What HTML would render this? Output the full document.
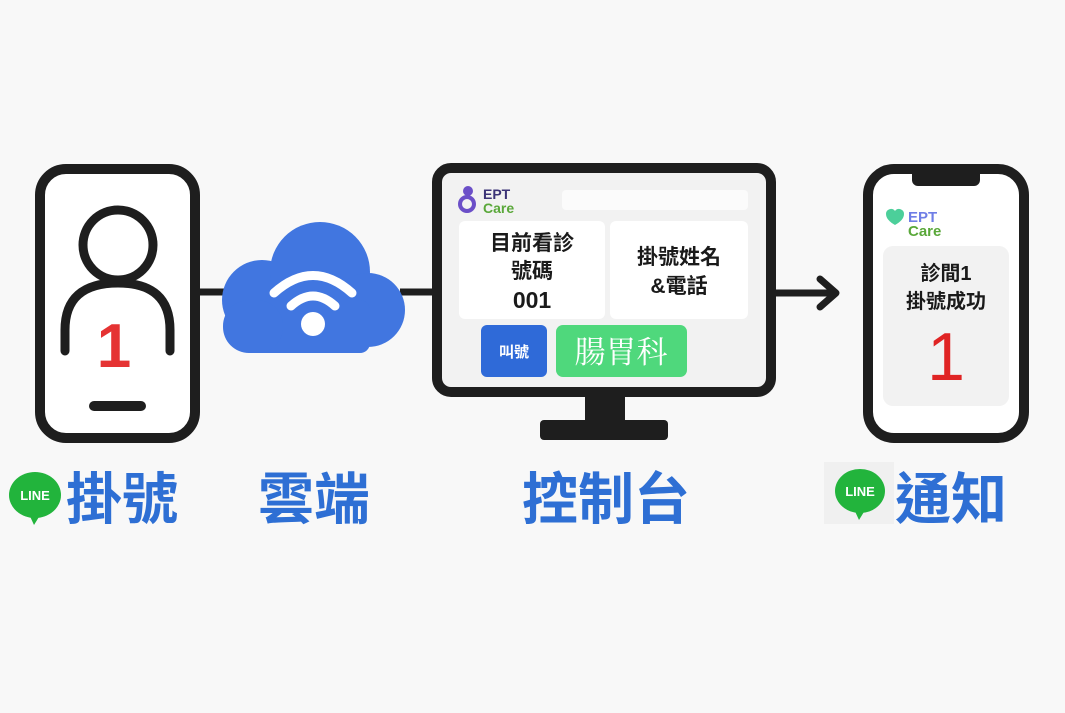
<!DOCTYPE html>
<html><head><meta charset="utf-8"><style>
html,body{margin:0;padding:0;background:#f8f8f8;}
svg{display:block}
.cjk{font-family:"Liberation Sans","Noto Sans CJK TC",sans-serif;}
</style></head><body>
<svg width="1065" height="713" viewBox="0 0 1065 713" xmlns="http://www.w3.org/2000/svg" class="cjk">
<rect width="1065" height="713" fill="#f8f8f8"/>
<!-- connectors -->
<line x1="198" y1="292" x2="240" y2="292" stroke="#1e1e1e" stroke-width="7"/>
<line x1="400" y1="292" x2="436" y2="292" stroke="#1e1e1e" stroke-width="7"/>
<line x1="772" y1="293" x2="834" y2="293" stroke="#1e1e1e" stroke-width="7"/>
<polyline points="820,279 836,293 820,307" fill="none" stroke="#1e1e1e" stroke-width="7" stroke-linecap="round" stroke-linejoin="round"/>

<!-- left phone -->
<rect x="40" y="169" width="155" height="269" rx="26" fill="#fff" stroke="#1e1e1e" stroke-width="10"/>
<circle cx="118" cy="245" r="35" fill="none" stroke="#1e1e1e" stroke-width="9"/>
<path d="M65,351 V330 Q65,283 118,283 Q170,283 170,330 V351" fill="none" stroke="#1e1e1e" stroke-width="9" stroke-linecap="round"/>
<text x="114" y="367" text-anchor="middle" font-size="62" font-weight="bold" fill="#e53333" font-family="Liberation Sans,sans-serif">1</text>
<line x1="94" y1="406" x2="141" y2="406" stroke="#1e1e1e" stroke-width="10" stroke-linecap="round"/>

<!-- cloud -->
<g fill="#4176e0">
<circle cx="262" cy="300" r="40"/>
<circle cx="320" cy="272" r="50"/>
<circle cx="368" cy="310" r="37"/>
<rect x="245" y="300" width="125" height="53" rx="10"/>
<rect x="223" y="300" width="60" height="53" rx="26"/>
</g>
<circle cx="313" cy="324" r="12" fill="#fff"/>
<path d="M291,306 Q313,286 335,306" fill="none" stroke="#fff" stroke-width="9" stroke-linecap="round"/>
<path d="M274,293 Q313,258 352,293" fill="none" stroke="#fff" stroke-width="9" stroke-linecap="round"/>

<!-- monitor -->
<rect x="585" y="395" width="40" height="30" fill="#1e1e1e"/>
<rect x="540" y="420" width="128" height="20" rx="4" fill="#1e1e1e"/>
<rect x="437" y="168" width="334" height="224" rx="14" fill="#f2f2f2" stroke="#1e1e1e" stroke-width="10"/>
<circle cx="467" cy="204" r="7" fill="none" stroke="#6b4fc8" stroke-width="4"/>
<circle cx="468" cy="191" r="5" fill="#6b4fc8"/>
<text x="483" y="199" font-size="14" font-weight="bold" fill="#3b3377" font-family="Liberation Sans,sans-serif">EPT</text>
<text x="483" y="213" font-size="14" font-weight="bold" fill="#5aa83a" font-family="Liberation Sans,sans-serif">Care</text>
<rect x="562" y="190" width="186" height="20" rx="4" fill="#fbfbfb"/>
<rect x="459" y="221" width="146" height="98" rx="6" fill="#fff"/>
<rect x="610" y="221" width="138" height="98" rx="6" fill="#fff"/>
<g font-weight="bold" fill="#1a1a1a">
<text x="532" y="250" text-anchor="middle" font-size="21">目前看診</text>
<text x="532" y="278" text-anchor="middle" font-size="21">號碼</text>
<text x="532" y="308" text-anchor="middle" font-size="23">001</text>
<text x="679" y="264" text-anchor="middle" font-size="21">掛號姓名</text>
<text x="679" y="293" text-anchor="middle" font-size="21">&amp;電話</text>
</g>
<rect x="481" y="325" width="66" height="52" rx="6" fill="#2f6ad8"/>
<text x="514" y="357" text-anchor="middle" font-size="15" font-weight="bold" fill="#fff">叫號</text>
<rect x="556" y="325" width="131" height="52" rx="7" fill="#4fd87c"/>
<text x="621" y="363" text-anchor="middle" font-size="31" fill="#fff" font-family="Noto Serif CJK SC,serif">腸胃科</text>

<!-- right phone -->
<rect x="868" y="169" width="156" height="269" rx="26" fill="#fff" stroke="#1e1e1e" stroke-width="10"/>
<rect x="912" y="168" width="68" height="18" rx="6" fill="#1e1e1e"/>
<path d="M886,214 a5,5 0 0 1 9,-3 a5,5 0 0 1 9,3 q0,6 -9,11 q-9,-5 -9,-11z" fill="#4ccf9a"/>
<text x="908" y="222" font-size="15" font-weight="bold" fill="#6f7ee6" font-family="Liberation Sans,sans-serif">EPT</text>
<text x="908" y="236" font-size="15" font-weight="bold" fill="#5aa83a" font-family="Liberation Sans,sans-serif">Care</text>
<rect x="883" y="246" width="126" height="160" rx="10" fill="#f2f2f2"/>
<text x="946" y="280" text-anchor="middle" font-size="20" font-weight="bold" fill="#1a1a1a">診間1</text>
<text x="946" y="308" text-anchor="middle" font-size="20" font-weight="bold" fill="#1a1a1a">掛號成功</text>
<text x="946" y="380" text-anchor="middle" font-size="68" fill="#e02424" font-family="Liberation Sans,sans-serif">1</text>

<!-- labels -->
<g>
<ellipse cx="35" cy="495" rx="26" ry="23" fill="#22b43c"/>
<path d="M28,512 L34,525 L42,512Z" fill="#22b43c"/>
<text x="35" y="500" text-anchor="middle" font-size="13" font-weight="bold" fill="#fff" font-family="Liberation Sans,sans-serif">LINE</text>
</g>
<text x="66" y="519" font-size="56" font-weight="bold" fill="#2e6fd4">掛號</text>
<text x="258" y="519" font-size="56" font-weight="bold" fill="#2e6fd4">雲端</text>
<text x="522" y="519" font-size="56" font-weight="bold" fill="#2e6fd4">控制台</text>
<rect x="824" y="462" width="70" height="62" fill="#f0f0f0"/>
<g>
<ellipse cx="860" cy="491" rx="25" ry="22" fill="#22b43c"/>
<path d="M853,507 L859,520 L867,507Z" fill="#22b43c"/>
<text x="860" y="496" text-anchor="middle" font-size="13" font-weight="bold" fill="#fff" font-family="Liberation Sans,sans-serif">LINE</text>
</g>
<text x="895" y="519" font-size="56" font-weight="bold" fill="#2e6fd4">通知</text>
</svg>
</body></html>
